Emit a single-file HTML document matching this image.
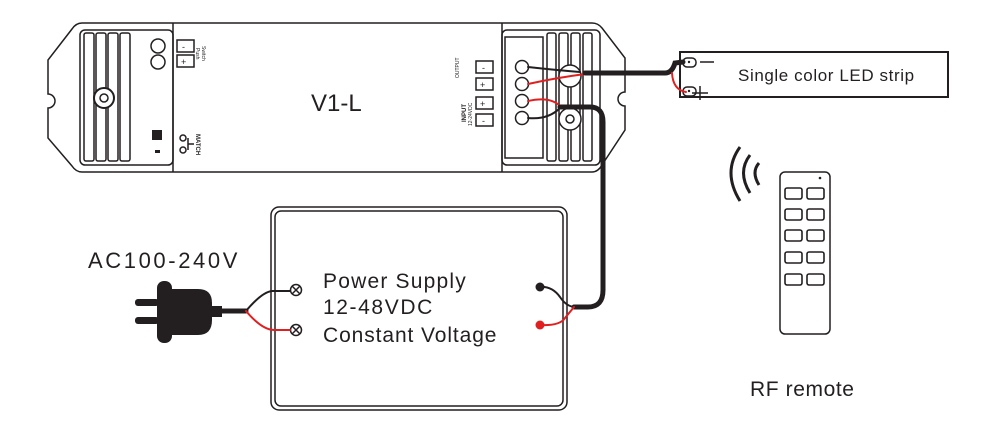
<!DOCTYPE html>
<html><head><meta charset="utf-8"><style>
html,body{margin:0;padding:0;background:#fff;width:1000px;height:425px;overflow:hidden}
svg{display:block}
text{font-family:"Liberation Sans",sans-serif;fill:#231f20}
</style></head><body>
<svg width="1000" height="425" viewBox="0 0 1000 425" xmlns="http://www.w3.org/2000/svg">
<g fill="none" stroke="#231f20" stroke-width="1.5">
<path d="M82,23 H592 Q598,23 602,28 L625,58 V92 A6,6 0 0 0 625,106 V130 L602,165 Q598,172 592,172 H82 Q76,172 72,166 L48,138 V108 A6,6 0 0 0 48,94 V60 L72,29 Q76,23 82,23 Z"/>
<rect x="80" y="30" width="93" height="135" rx="5"/>
<line x1="173" y1="23" x2="173" y2="172"/>
<line x1="502" y1="23" x2="502" y2="172"/>
<rect x="502" y="30" width="98" height="135" rx="5"/>
<rect x="84" y="33" width="10" height="128" rx="2"/>
<rect x="96" y="33" width="10" height="128" rx="2"/>
<rect x="108" y="33" width="10" height="128" rx="2"/>
<rect x="120" y="33" width="10" height="128" rx="2"/>
<circle cx="104" cy="98" r="10" fill="#fff" stroke-width="2"/>
<circle cx="104" cy="98" r="4"/>
<circle cx="158" cy="46" r="7"/>
<circle cx="158" cy="62" r="7"/>
<rect x="177" y="40" width="17" height="12"/>
<rect x="177" y="55" width="17" height="12"/>
<rect x="505" y="37" width="38" height="121"/>
<rect x="547" y="33" width="9" height="128" rx="2"/>
<rect x="559" y="33" width="9" height="128" rx="2"/>
<rect x="571" y="33" width="9" height="128" rx="2"/>
<rect x="583" y="33" width="9" height="128" rx="2"/>
<circle cx="522" cy="67" r="6.5"/><circle cx="522" cy="84" r="6.5"/>
<circle cx="522" cy="101" r="6.5"/><circle cx="522" cy="118" r="6.5"/>
<rect x="476" y="61" width="17" height="12"/><rect x="476" y="78" width="17" height="12"/>
<rect x="476" y="97" width="17" height="12"/><rect x="476" y="114" width="17" height="12"/>
<circle cx="570" cy="76" r="11" fill="#fff"/>
<circle cx="570" cy="119" r="11" fill="#fff"/><circle cx="570" cy="119" r="4"/>
<circle cx="183" cy="138" r="3"/><circle cx="183" cy="150" r="3"/>
<path d="M188,138 V150 M188,144 H194"/>
<rect x="680" y="52" width="268" height="45" stroke-width="2"/>
<rect x="683" y="58" width="13" height="9" rx="4"/><rect x="683" y="87" width="13" height="9" rx="4"/>
<path d="M700,62 H714 M692,93 H708 M700,86 V100" />
<rect x="271" y="207" width="296" height="203" rx="8"/>
<rect x="275" y="211" width="288" height="195" rx="6"/>
<circle cx="296" cy="290" r="5.5"/><path d="M292,286 L300,294 M300,286 L292,294"/>
<circle cx="296" cy="330" r="5.5"/><path d="M292,326 L300,334 M300,326 L292,334"/>
<rect x="780" y="172" width="50" height="162" rx="5"/>
<g stroke-width="1.6">
<rect x="785" y="188" width="17" height="11" rx="2"/><rect x="807" y="188" width="17" height="11" rx="2"/>
<rect x="785" y="209" width="17" height="11" rx="2"/><rect x="807" y="209" width="17" height="11" rx="2"/>
<rect x="785" y="230" width="17" height="11" rx="2"/><rect x="807" y="230" width="17" height="11" rx="2"/>
<rect x="785" y="252" width="17" height="11" rx="2"/><rect x="807" y="252" width="17" height="11" rx="2"/>
<rect x="785" y="274" width="17" height="11" rx="2"/><rect x="807" y="274" width="17" height="11" rx="2"/>
</g>
<g stroke-width="3">
<path d="M740,147 Q722,172 740,201"/>
<path d="M750,155 Q737,172 750,193"/>
<path d="M759,163 Q751,172 759,185"/>
</g>
</g>
<circle cx="820" cy="178" r="1.3" fill="#231f20"/>
<circle cx="689" cy="62" r="1.2" fill="#231f20"/><circle cx="689" cy="91" r="1.2" fill="#231f20"/>
<rect x="152" y="130" width="10" height="10" fill="#231f20"/>
<rect x="155" y="150" width="5" height="3" fill="#231f20"/>
<g fill="none" stroke-linecap="round">
<path d="M528,67 Q555,70 580,72" stroke="#231f20" stroke-width="2"/>
<path d="M528,84 Q555,78 585,74" stroke="#e02020" stroke-width="2"/>
<path d="M585,73 H665 Q672,73 675,63 L683,62" stroke="#231f20" stroke-width="5"/>
<path d="M672,73 Q673,90 686,92" stroke="#e02020" stroke-width="2"/>
<path d="M528,101 Q550,96 560,106" stroke="#e02020" stroke-width="2"/>
<path d="M528,118 Q548,120 560,108" stroke="#231f20" stroke-width="2"/>
<path d="M560,107 H590 Q603,107 603,122 V290 Q603,307 588,307 H574" stroke="#231f20" stroke-width="5"/>
<path d="M540,287 Q552,286 560,297 Q566,306 574,307" stroke="#231f20" stroke-width="2"/>
<path d="M540,325 Q560,326 565,318 L574,307" stroke="#e02020" stroke-width="2"/>
<path d="M218,311 H246" stroke="#231f20" stroke-width="5"/>
<path d="M246,311 Q262,292 272,291 H290" stroke="#231f20" stroke-width="2"/>
<path d="M246,311 Q262,330 274,330 H290" stroke="#e02020" stroke-width="2"/>
</g>
<circle cx="540" cy="287" r="4.5" fill="#231f20"/>
<circle cx="540" cy="325" r="4.5" fill="#e02020"/>
<g fill="#231f20">
<rect x="135" y="299" width="24" height="7" rx="3"/>
<rect x="135" y="317" width="24" height="7" rx="3"/>
<rect x="157" y="281" width="15" height="62" rx="7"/>
<path d="M170,289 H198 Q212,289 212,303 V320 Q212,335 198,335 H170 Z"/>
<rect x="210" y="306" width="12" height="11"/>
</g>
<text x="311" y="111" font-size="24">V1-L</text>
<text x="738" y="81" font-size="17" letter-spacing="0.6">Single color LED strip</text>
<text x="88" y="268" font-size="22" letter-spacing="2.6">AC100-240V</text>
<text x="323" y="288" font-size="21" letter-spacing="1.2">Power Supply</text>
<text x="323" y="314" font-size="21" letter-spacing="1.6">12-48VDC</text>
<text x="323" y="342" font-size="21" letter-spacing="0.9">Constant Voltage</text>
<text x="750" y="396" font-size="21" letter-spacing="0.6">RF remote</text>
<text x="182" y="50" font-size="9">-</text><text x="181" y="65" font-size="9">+</text>
<text x="482" y="71" font-size="9">-</text><text x="480" y="88" font-size="9">+</text>
<text x="480" y="107" font-size="9">+</text><text x="482" y="124" font-size="9">-</text>
<text font-size="5" transform="translate(202,46) rotate(90)">Switch</text>
<text font-size="5" transform="translate(196,48) rotate(90)">Push</text>
<text font-size="6" font-weight="bold" transform="translate(196,134) rotate(90)">MATCH</text>
<text font-size="5" transform="translate(459,78) rotate(-90)">OUTPUT</text>
<text font-size="6" font-weight="bold" transform="translate(466,122) rotate(-90)">INPUT</text>
<text font-size="5" transform="translate(472,126) rotate(-90)">12-24VDC</text>
</svg>
</body></html>
